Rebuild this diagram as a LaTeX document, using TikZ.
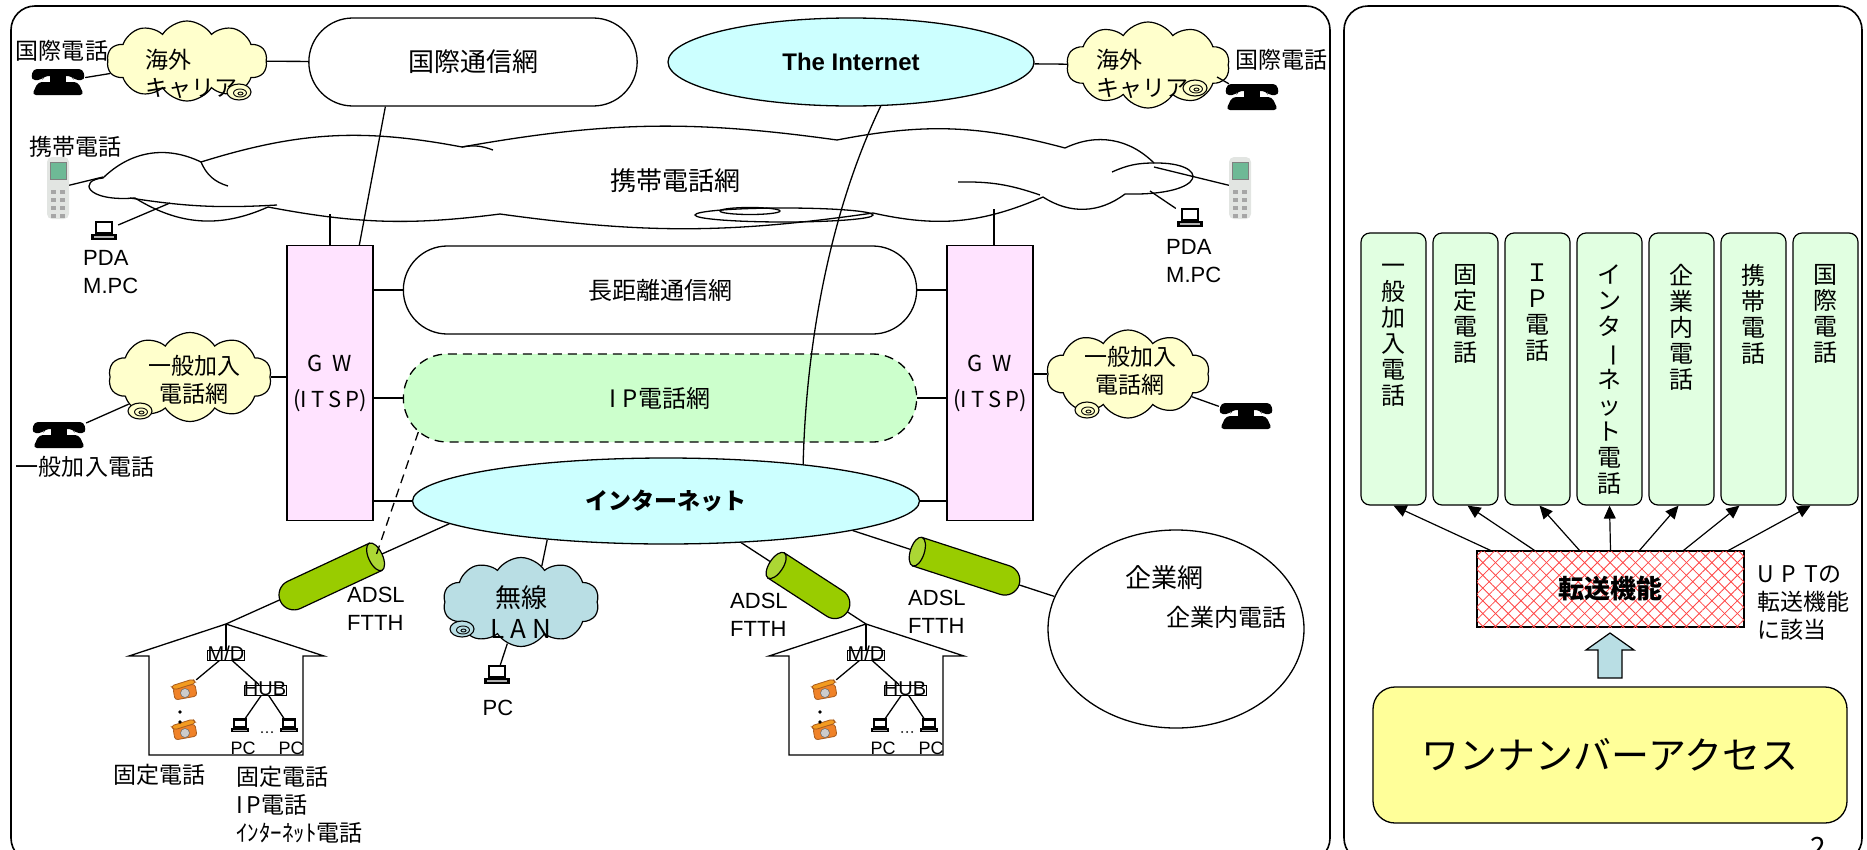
\documentclass[tikz,border=0pt]{standalone}
\usepackage{fontspec}
\usepackage{graphicx}
\setmainfont{Noto Sans CJK JP}
\newfontfamily\arialfam{Liberation Sans}
\usetikzlibrary{calc,arrows.meta,shapes.misc,shapes.symbols,shapes.geometric,patterns.meta}

\definecolor{cloudyel}{RGB}{255,255,204}
\definecolor{skycyan}{RGB}{204,255,255}
\definecolor{gwpink}{RGB}{255,227,255}
\definecolor{ipgreen}{RGB}{204,255,204}
\definecolor{lanblue}{RGB}{185,222,228}
\definecolor{tubebody}{RGB}{153,204,0}
\definecolor{tubecap}{RGB}{172,215,52}
\definecolor{boxgreen}{RGB}{225,255,225}
\definecolor{accyel}{RGB}{255,255,153}
\definecolor{arrblue}{RGB}{185,222,228}
\definecolor{hatchred}{RGB}{255,70,70}
\definecolor{phoneorange}{RGB}{240,130,40}
\definecolor{mobgray}{RGB}{226,229,226}
\definecolor{mobscreen}{RGB}{110,185,150}

% vertical long vowel mark for the stacked labels
\newcommand\tatebar{\rotatebox[origin=c]{-90}{ー}}

\tikzset{
  link/.style={line width=1.3pt},
  panel/.style={draw, line width=1.6pt, rounded corners=24pt},
  net/.style={draw, line width=1.3pt, rounded rectangle, minimum width=520, minimum height=88, font=\fontsize{24}{28}\selectfont},
  globe/.style={draw, line width=1.3pt, ellipse, fill=skycyan},
  gw/.style={draw, line width=1.2pt, fill=gwpink, minimum width=86, minimum height=275, align=center, font=\fontsize{22}{36}\selectfont},
  puff/.style={draw, line width=1.2pt, cloud, cloud puffs=10, cloud puff arc=115, cloud ignores aspect, inner sep=0pt},
  lbl/.style={inner sep=0pt, font=\fontsize{23}{28}\selectfont},
  latin/.style={inner sep=0pt, align=left, font=\arialfam\fontsize{22}{28}\selectfont},
  iconbox/.style 2 args={inner sep=0pt, minimum width=#1, minimum height=#2},
  mdbox/.style={draw, line width=0.7pt, inner sep=0pt, text height=10pt, text depth=0pt, font=\arialfam\fontsize{20}{20}\selectfont},
  tall/.style={draw, line width=1.2pt, fill=boxgreen, rounded corners=9pt, minimum width=65, minimum height=272},
  vtext/.style={inner sep=0pt, align=center, font=\fontsize{24}{26}\selectfont},
  upar/.style={line width=1.2pt, -{Triangle[length=13pt, width=12pt]}},
  % small pictures
  pics/blacktel/.style={code={
    \fill[black, rounded corners=4pt] (-26,13) -- (-20,0) -- (20,0) -- (26,13) -- cycle;
    \fill[black, rounded corners=4pt] (-27,-2) -- (-25,-13) -- (25,-13) -- (27,-2) -- (16,-2) -- (14,-6) -- (-14,-6) -- (-16,-2) -- cycle;
    \fill[black] (-8,-6) rectangle (8,1);
  }},
  pics/mobile/.style={code={
    \fill[mobgray, rounded corners=5pt] (-11,-31) rectangle (11,31);
    \filldraw[fill=mobscreen, draw=gray, line width=0.6pt] (-8,-26) rectangle (8,-9);
    \foreach \r in {0,1,2,3} {
      \fill[gray!70] (-7,2+8*\r) rectangle (-2,6+8*\r);
      \fill[gray!70] (2,2+8*\r) rectangle (7,6+8*\r);
    }
  }},
  pics/laptop/.style={code={
    \filldraw[fill=white, draw=black, line width=2.4pt] (-8,-9) rectangle (8,2);
    \fill[black] (-13,3) rectangle (13,9);
    \fill[gray!60] (-10,5) rectangle (10,6.5);
  }},
  pics/deskphone/.style={code={
    \filldraw[fill=phoneorange, draw=phoneorange!70!black, line width=0.8pt, rounded corners=3pt] (-11,-2) -- (11,-6) -- (13,6) -- (-9,10) -- cycle;
    \filldraw[fill=phoneorange!80!yellow, draw=phoneorange!70!black, line width=0.8pt, rounded corners=3pt] (-13,-4) -- (9,-11) -- (12,-7) -- (-10,0) -- cycle;
    \filldraw[fill=gray!40, draw=black!60, line width=0.5pt] (1,3) circle (4.5);
  }},
  pics/curl/.style={code={
    \filldraw[fill=#1, line width=1.1pt] (0,0) ellipse [x radius=12, y radius=8];
    \draw[line width=0.9pt] (1,1) ellipse [x radius=6.5, y radius=4];
    \draw[line width=0.9pt] (1.5,1.5) ellipse [x radius=2.5, y radius=1.5];
  }},
  pics/tube/.style={code={
    \filldraw[fill=tubebody, line width=1.2pt] (0,-15) -- (#1,-15) arc[start angle=-90, end angle=90, radius=15] -- (0,15) -- cycle;
    \filldraw[fill=tubecap, line width=1.2pt] (0,0) ellipse [x radius=7, y radius=15];
  }},
}

\begin{document}
\begin{tikzpicture}[x=1pt, y=-1pt]
\useasboundingbox (0,0) rectangle (1867,849);
\clip (0,0) rectangle (1867,849);

% two panels
\draw[panel] (11,6) rectangle (1330,862);
\draw[panel] (1344,6) rectangle (1862,862);

% carrier networks
\node[net, minimum width=335, fill=white, font=\fontsize{26}{30}\selectfont] (kokusai) at (473,62) {国際通信網};
\node[globe, minimum width=366, minimum height=88, font=\arialfam\bfseries\fontsize{24}{28}\selectfont] (theinet) at (851,62) {The Internet};
\node[net, fill=white] (choukyori) at (660,290) {長距離通信網};
\node[net, fill=ipgreen, dash pattern=on 9pt off 6pt] (ipnet) at (660,398) {I\hspace{6pt}P電話網};
\node[globe, minimum width=507, minimum height=86, font=\bfseries\fontsize{23}{28}\selectfont] (inet) at (666,501) {インターネット};
\node[gw] (gwL) at (330,383) {G\hspace{10pt}W\\(I\hspace{4pt}T\hspace{4pt}S\hspace{4pt}P)};
\node[gw] (gwR) at (990,383) {G\hspace{10pt}W\\(I\hspace{4pt}T\hspace{4pt}S\hspace{4pt}P)};
\node[draw, ellipse, line width=1.3pt, minimum width=256, minimum height=198] (corp) at (1176,629) {};
\node[lbl, font=\fontsize{26}{30}\selectfont] (corpname) at (1164,578) {企業網};
\node[lbl, font=\fontsize{24}{28}\selectfont] (corptel) at (1226,617) {企業内電話};

% mobile network cloud
\draw[link] (103,178) to[bend left=35] (201,162) to[bend left=14] (462,147) to[bend left=9] (837,140)
  to[bend left=13] (1065,148) to[bend left=35] (1154,163) .. controls (1210,162) and (1210,196) .. (1125,194)
  to[bend left=35] (1043,197) to[bend left=18] (873,213) to[bend left=8] (500,214) to[bend left=9] (268,207)
  to[bend left=28] (135,198) .. controls (85,202) and (78,180) .. cycle;
\draw[link] (201,162) to[bend right=25] (228,186);
\draw[link] (130,198) to[bend right=6] (277,205);
\draw[link] (462,147) to[bend left=15] (493,150);
\draw[link] (1112,172) to[bend left=12] (1154,163);
\draw[link] (958,182) to[bend left=10] (1040,195);
\draw[link] (784,215) ellipse [x radius=89, y radius=7];
\draw[link] (750,211) ellipse [x radius=30, y radius=3.5];
\node[lbl, font=\fontsize{26}{30}\selectfont] (mobnet) at (675,181) {携帯電話網};
\coordinate (mobW) at (103,177);
\coordinate (mobSW) at (170,203);
\coordinate (mobGL) at (330,214);
\coordinate (mobGR) at (994,209);
\coordinate (mobE) at (1154,167);
\coordinate (mobSE) at (1150,191);

% clouds
\node[puff, fill=cloudyel, minimum width=160, minimum height=80] (carA) at (187,61) {};
\node[lbl, align=left, anchor=west] (carAtxt) at (145,74) {海外\\キャリア};
\pic at (239,92) {curl=cloudyel};
\node[puff, fill=cloudyel, minimum width=163, minimum height=86] (carB) at (1148,65) {};
\node[lbl, align=left, anchor=west] (carBtxt) at (1096,74) {海外\\キャリア};
\pic at (1195,88) {curl=cloudyel};
\coordinate (carBtip) at (1217,77);
\node[puff, fill=cloudyel, minimum width=163, minimum height=89] (ippanL) at (190,377) {};
\node[lbl, align=center] (ippanLtxt) at (194,380) {一般加入\\電話網};
\pic at (140,411) {curl=cloudyel};
\node[puff, fill=cloudyel, minimum width=163, minimum height=88] (ippanR) at (1128,374) {};
\node[lbl, align=center] (ippanRtxt) at (1130,371) {一般加入\\電話網};
\pic at (1087,410) {curl=cloudyel};
\node[puff, fill=lanblue, minimum width=156, minimum height=89] (wlan) at (521,602) {};
\node[lbl, align=center, font=\fontsize{26}{31}\selectfont] (wlantxt) at (521,612) {無線\\L\hspace{6pt}A\hspace{6pt}N};
\pic at (462,629) {curl=lanblue};

% terminals
\node[iconbox={54}{26}] (telA) at (58,82) {};
\pic at (telA) {blacktel};
\node[iconbox={54}{26}] (telB) at (1252,97) {};
\pic at (telB) {blacktel};
\node[iconbox={54}{26}] (telC) at (59,435) {};
\pic at (telC) {blacktel};
\node[iconbox={54}{26}] (telD) at (1246,416) {};
\pic at (telD) {blacktel};
\node[iconbox={22}{62}] (mobL) at (58,188) {};
\pic at (mobL) {mobile};
\node[iconbox={22}{62}] (mobR) at (1240,188) {};
\pic at (mobR) {mobile};
\node[iconbox={28}{20}] (pdaL) at (104,231) {};
\pic at (pdaL) {laptop};
\node[iconbox={28}{20}] (pdaR) at (1190,218) {};
\pic at (pdaR) {laptop};
\node[iconbox={28}{20}] (pcW) at (497,675) {};
\pic at (pcW) {laptop};

% labels
\node[lbl] (intlL) at (62,51) {国際電話};
\node[lbl] (intlR) at (1281,60) {国際電話};
\node[lbl] (mobLbl) at (75,147) {携帯電話};
\node[latin, anchor=west] (pdaLlbl) at (83,272) {PDA\\M.PC};
\node[latin, anchor=west] (pdaRlbl) at (1166,261) {PDA\\M.PC};
\node[lbl] (subLbl) at (85,467) {一般加入電話};
\node[latin] (pcWlbl) at (498,708) {PC};
\node[latin, anchor=west] (adslL) at (347,609) {ADSL\\FTTH};
\node[latin, anchor=west] (adslM) at (730,615) {ADSL\\FTTH};
\node[latin, anchor=west] (adslR) at (908,612) {ADSL\\FTTH};

% links
\draw[link] (telA) -- (carA);
\draw[link] (carA) -- (kokusai);
\draw[link] (kokusai.207) -- (gwL.78);
\draw[link] (theinet) -- (carB);
\draw[link] (carBtip) -- (telB);
\draw[link] (mobL) -- (mobW);
\draw[link] (pdaL) -- (mobSW);
\draw[link] (mobGL) -- (gwL);
\draw[link] (mobGR) -- (gwR.north -| mobGR);
\draw[link] (mobE) -- (mobR);
\draw[link] (mobSE) -- (pdaR);
\foreach \n in {choukyori, ipnet, inet} {
  \draw[link] (gwL.east |- \n.west) -- (\n.west);
  \draw[link] (gwR.west |- \n.east) -- (\n.east);
}
\draw[link] (ippanL.east) -- (gwL.west |- ippanL.east);
\draw[link] (ippanR.west) -- (gwR.east |- ippanR.west);
\draw[link] (ippanL) -- (telC);
\draw[link] (ippanR) -- (telD);
\draw[link] (theinet.-56) .. controls (829,214) and (806,346) .. (inet.15);
\draw[link] (inet.198) -- (wlan.60);
\draw[link] (wlan) -- (pcW);

% homes
\foreach \hx/\hn in {226/L, 866/R} {
  \begin{scope}[shift={(\hx,624)}]
    \draw[link] (-77,131) -- (-77,32) -- (-97,32) -- (0,0) -- (98,32) -- (77,32) -- (77,131) -- cycle;
    \coordinate (peak\hn) at (0,0);
    \node[mdbox] (md\hn) at (0,31) {M/D};
    \node[mdbox] (hub\hn) at (39,66) {HUB};
    \node[iconbox={24}{20}] (ph1\hn) at (-42,66) {};
    \pic at (ph1\hn) {deskphone};
    \node[iconbox={24}{20}] (ph2\hn) at (-42,106) {};
    \pic at (ph2\hn) {deskphone};
    \fill (-46,88) circle (1.8);
    \fill (-46,98) circle (1.8);
    \node[iconbox={20}{14}] (pc1\hn) at (14,102) {};
    \pic[scale=0.72] at (pc1\hn) {laptop};
    \node[iconbox={20}{14}] (pc2\hn) at (63,102) {};
    \pic[scale=0.72] at (pc2\hn) {laptop};
    \foreach \d in {36,41,46} \fill (\d,108) circle (1);
    \node[latin, font=\arialfam\fontsize{18}{20}\selectfont] (pcl1\hn) at (17,124) {PC};
    \node[latin, font=\arialfam\fontsize{18}{20}\selectfont] (pcl2\hn) at (65,124) {PC};
    \draw[link] (peak\hn) -- (md\hn);
    \draw[link] (md\hn) -- (ph1\hn);
    \draw[link] (md\hn) -- (hub\hn);
    \draw[link] (hub\hn) -- (pc1\hn);
    \draw[link] (hub\hn) -- (pc2\hn);
  \end{scope}
}
\node[lbl] (fixlbl) at (159,775) {固定電話};
\node[lbl, anchor=west, align=left] (svclbl) at (236,805) {固定電話\\I\hspace{4pt}P電話\\ｲﾝﾀｰﾈｯﾄ電話};

% access lines
\draw[link] (inet.186) -- (peakL);
\draw[link] (inet.-29) -- (peakR);
\draw[link] (inet.-9) -- (corp.165);
\coordinate (tubeL) at ($(inet.186)!0.33!(peakL)$);
\coordinate (tubeA) at ($(inet.-29)!0.28!(peakR)$);
\coordinate (tubeB) at ($(inet.-9)!0.32!(corp.165)$);
\pic[rotate=205] at (tubeL) {tube=90};
\pic[rotate=-33] at (tubeA) {tube=70};
\pic[rotate=-18] at (tubeB) {tube=92};
\draw[link, dash pattern=on 9pt off 6pt] (ipnet.188) -- (tubeL);

% right panel: services
\foreach \i/\txt in {1/{一\\般\\加\\入\\電\\話}, 2/{固\\定\\電\\話}, 3/{Ｉ\\Ｐ\\電\\話},
    4/{イ\\ン\\タ\\\tatebar\\ネ\\ッ\\ト\\電\\話}, 5/{企\\業\\内\\電\\話}, 6/{携\\帯\\電\\話}, 7/{国\\際\\電\\話}} {
  \node[tall] (b\i) at ({1393.5+72*(\i-1)},369) {};
  \node[vtext, anchor=north] (t\i) at (b\i.north |- 0,264) {\txt};
}
\node[draw, line width=1.2pt, fill=white, minimum width=267, minimum height=76,
  postaction={pattern={Lines[angle=45, distance=9pt, line width=0.8pt]}, pattern color=hatchred},
  postaction={pattern={Lines[angle=-45, distance=9pt, line width=0.8pt]}, pattern color=hatchred},
  font=\bfseries\fontsize{26}{30}\selectfont] (fn) at (1610.5,589) {転送機能};
\foreach \i/\s/\e in {1/-120/0, 2/-76/2, 3/-31/2, 4/0/0, 5/29/-3, 6/73/-14, 7/118/-15}
  \draw[upar] ([xshift=\s]fn.north) -- ([xshift=\e]b\i.south);
\node[lbl, align=left, anchor=north west] (uptnote) at (1757,565) {U\hspace{8pt}P\hspace{8pt}Tの\\転送機能\\に該当};
\node[draw, line width=1.3pt, fill=accyel, rounded corners=22pt, minimum width=474, minimum height=136,
  font=\fontsize{38}{42}\selectfont] (acc) at (1610,755) {ワンナンバーアクセス};
\draw[line width=1.2pt, fill=arrblue] (1598,678) -- (1598,650) -- (1586,650) -- (1610,633) -- (1634,650) -- (1622,650) -- (1622,678) -- cycle;

\node[anchor=base, inner sep=0pt, font=\fontsize{28}{30}\selectfont] (pageno) at (1818,857) {2};
\end{tikzpicture}
\end{document}
